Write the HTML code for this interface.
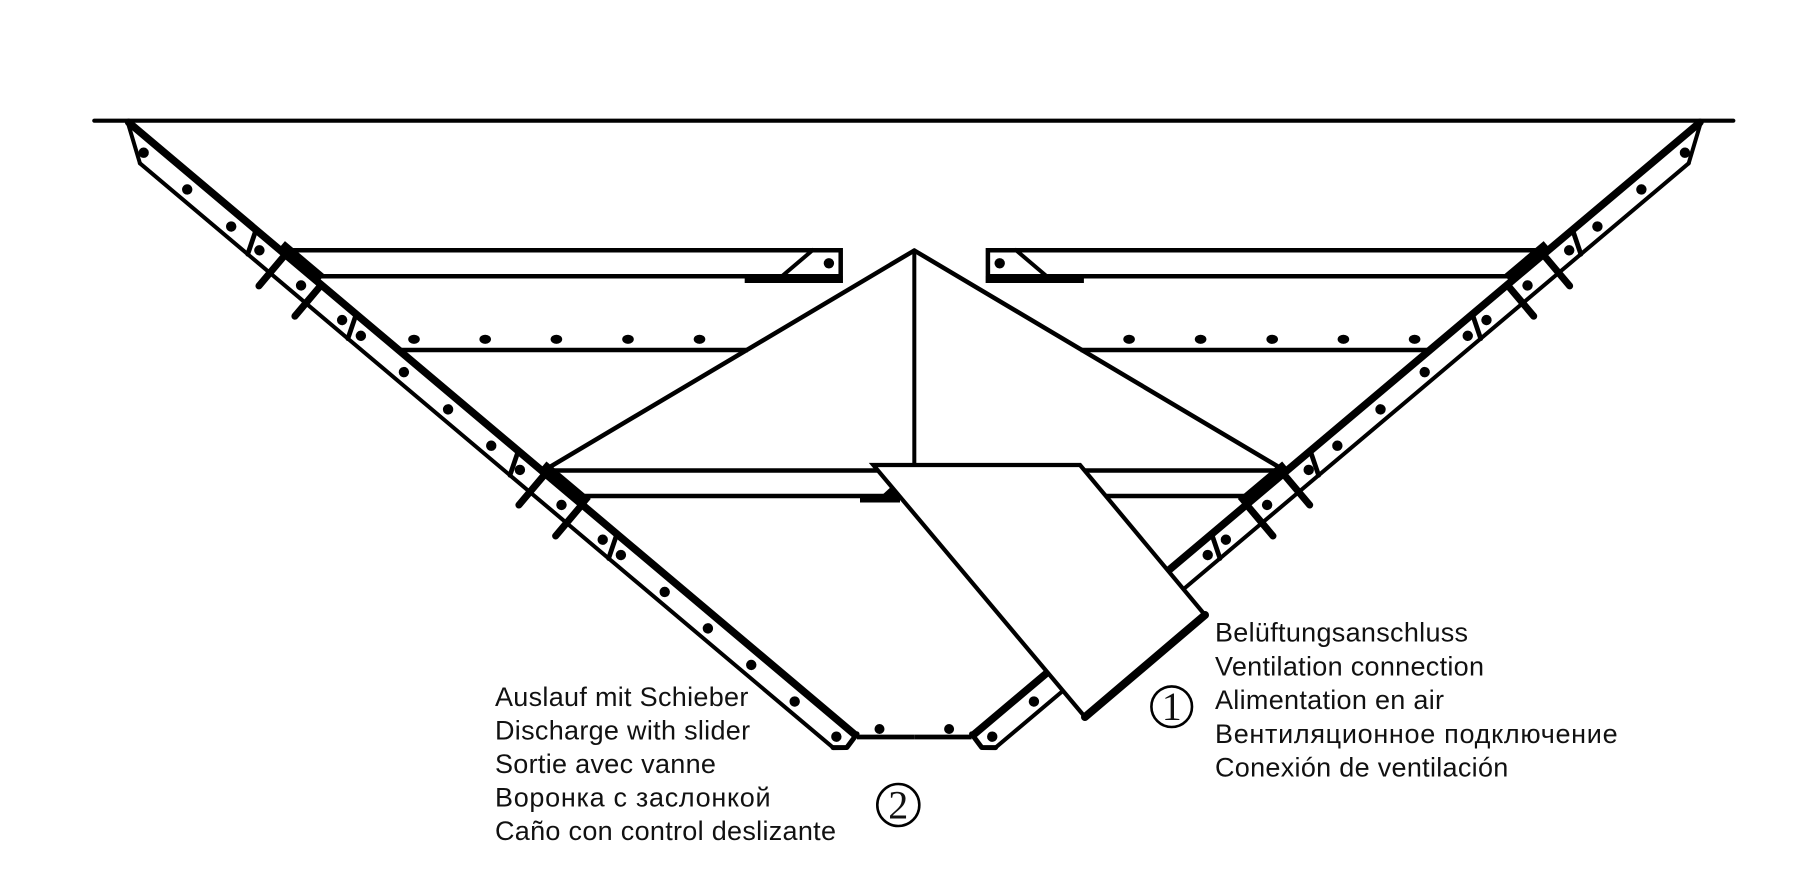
<!DOCTYPE html>
<html>
<head>
<meta charset="utf-8">
<style>
  html, body { margin: 0; padding: 0; background: #fff; }
  body { width: 1808px; height: 877px; overflow: hidden; }
  svg { display: block; }
  .lbl { font-family: "Liberation Sans", Arial, sans-serif; font-size: 27px; fill: #111; letter-spacing: 0.3px; }
  .cyr { letter-spacing: 0.7px; }
  .num { font-family: "Liberation Serif", serif; font-size: 40px; fill: #111; }
</style>
</head>
<body>
<svg width="1808" height="877" viewBox="0 0 1808 877" xmlns="http://www.w3.org/2000/svg">
  <defs>
    <g id="half" stroke="#000" fill="none" stroke-linecap="round">
      <!-- wall with strip (rotated local coords) -->
      <g transform="translate(131.7,125) rotate(40.13)">
        <line x1="-4" y1="0" x2="946" y2="0" stroke-width="7.5"/>
        <line x1="31" y1="24" x2="937.5" y2="24" stroke-width="4"/>
        <line x1="-4" y1="1" x2="31" y2="24" stroke-width="4"/>
        <path d="M937.5,24 L948,15 L947,-2" stroke-width="5" stroke-linejoin="round"/>
        <!-- joints -->
        <line x1="163" y1="1" x2="172" y2="24" stroke-width="4.8"/>
        <line x1="294" y1="1" x2="303" y2="24" stroke-width="4.8"/>
        <line x1="506" y1="1" x2="515" y2="24" stroke-width="4.8"/>
        <line x1="635" y1="1" x2="644" y2="24" stroke-width="4.8"/>
        <!-- blocks -->
        <rect x="192" y="-10" width="52" height="13" fill="#000" stroke="none"/>
        <rect x="534" y="-10" width="58" height="13" fill="#000" stroke="none"/>
        <!-- clamp bars -->
        <line x1="201" y1="0" x2="201" y2="41" stroke-width="7"/>
        <line x1="248" y1="0" x2="248" y2="41" stroke-width="7"/>
        <line x1="541" y1="0" x2="541" y2="41" stroke-width="7"/>
        <line x1="589" y1="0" x2="589" y2="41" stroke-width="7"/>
        <!-- dots -->
        <g fill="#000" stroke="none">
          <circle cx="27" cy="13.5" r="5.2"/>
          <circle cx="84" cy="13.5" r="5.2"/>
          <circle cx="141.5" cy="13.5" r="5.2"/>
          <circle cx="178.4" cy="13.5" r="5.2"/>
          <circle cx="232.9" cy="13.5" r="5.2"/>
          <circle cx="286.6" cy="13.5" r="5.2"/>
          <circle cx="311.1" cy="13.5" r="5.2"/>
          <circle cx="367.4" cy="13.5" r="5.2"/>
          <circle cx="425.2" cy="13.5" r="5.2"/>
          <circle cx="481.6" cy="13.5" r="5.2"/>
          <circle cx="519.1" cy="13.5" r="5.2"/>
          <circle cx="573.5" cy="13.5" r="5.2"/>
          <circle cx="627.4" cy="13.5" r="5.2"/>
          <circle cx="651.2" cy="13.5" r="5.2"/>
          <circle cx="708.5" cy="13.5" r="5.2"/>
          <circle cx="765" cy="13.5" r="5.2"/>
          <circle cx="821.7" cy="13.5" r="5.2"/>
          <circle cx="878.5" cy="13.5" r="5.2"/>
          <circle cx="933" cy="13.5" r="5.2"/>
        </g>
      </g>
      <!-- upper bar -->
      <line x1="280" y1="250.3" x2="840.7" y2="250.3" stroke-width="4.5" stroke-linecap="butt"/>
      <line x1="310.8" y1="276.3" x2="840.7" y2="276.3" stroke-width="4.5" stroke-linecap="butt"/>
      <line x1="840.7" y1="248" x2="840.7" y2="283" stroke-width="4.5" stroke-linecap="butt"/>
      <rect x="744.7" y="276" width="98" height="7" fill="#000" stroke="none"/>
      <line x1="812.8" y1="250" x2="782.2" y2="276" stroke-width="4"/>
      <circle cx="828.9" cy="263.3" r="5.2" fill="#000" stroke="none"/>
      <!-- dot row -->
      <g fill="#000" stroke="none">
        <ellipse cx="414" cy="339.3" rx="5.8" ry="4.6"/>
        <ellipse cx="485.2" cy="339.3" rx="5.8" ry="4.6"/>
        <ellipse cx="556.4" cy="339.3" rx="5.8" ry="4.6"/>
        <ellipse cx="628" cy="339.3" rx="5.8" ry="4.6"/>
        <ellipse cx="699.5" cy="339.3" rx="5.8" ry="4.6"/>
      </g>
      <line x1="398.6" y1="350" x2="748" y2="350" stroke-width="4.5" stroke-linecap="butt"/>
      <!-- apex diagonal -->
      <line x1="914.3" y1="250.5" x2="547.6" y2="468.3" stroke-width="4.5"/>
      <!-- center vertical -->
      <line x1="914.3" y1="250" x2="914.3" y2="465" stroke-width="3.8" stroke-linecap="butt"/>
      <!-- lower bar -->
      <line x1="541.8" y1="470.5" x2="914.3" y2="470.5" stroke-width="4.5" stroke-linecap="butt"/>
      <line x1="571.8" y1="496" x2="914.3" y2="496" stroke-width="4.5" stroke-linecap="butt"/>
      <rect x="860" y="496" width="40" height="6.5" fill="#000" stroke="none"/>
      <polygon points="880,497 896,497 893,485" fill="#000" stroke="none"/>
      <!-- bottom plate -->
      <line x1="857" y1="737" x2="914.3" y2="737" stroke-width="4.7" stroke-linecap="butt"/>
      <circle cx="879.5" cy="729" r="5" fill="#000" stroke="none"/>
    </g>
  </defs>

  <!-- top line -->
  <line x1="94.3" y1="120.7" x2="1733.3" y2="120.7" stroke="#000" stroke-width="4.2" stroke-linecap="round"/>

  <use href="#half"/>
  <use href="#half" transform="translate(1828.6,0) scale(-1,1)"/>

  <!-- chute -->
  <polygon points="873.3,465 1080,465 1205,615 1085,717" fill="#fff" stroke="#000" stroke-width="4.2" stroke-linejoin="miter"/>
  <line x1="1085" y1="717" x2="1205" y2="615" stroke="#000" stroke-width="8" stroke-linecap="round"/>

  <!-- circled numbers -->
  <circle cx="898.3" cy="805" r="21" fill="none" stroke="#000" stroke-width="2.6"/>
  <text class="num" x="898.3" y="818.5" text-anchor="middle">2</text>
  <circle cx="1171.7" cy="706.7" r="20.3" fill="none" stroke="#000" stroke-width="2.6"/>
  <text class="num" x="1171.7" y="720" text-anchor="middle">1</text>

  <!-- left labels -->
  <text class="lbl" x="495" y="706">Auslauf mit Schieber</text>
  <text class="lbl" x="495" y="739.5">Discharge with slider</text>
  <text class="lbl" x="495" y="773">Sortie avec vanne</text>
  <text class="lbl cyr" x="495" y="806.5">Воронка с заслонкой</text>
  <text class="lbl" x="495" y="840">Caño con control deslizante</text>

  <!-- right labels -->
  <text class="lbl" x="1215" y="641.7">Belüftungsanschluss</text>
  <text class="lbl" x="1215" y="675.4">Ventilation connection</text>
  <text class="lbl" x="1215" y="709.1">Alimentation en air</text>
  <text class="lbl cyr" x="1215" y="742.8">Вентиляционное подключение</text>
  <text class="lbl" x="1215" y="776.5">Conexión de ventilación</text>
</svg>
</body>
</html>
